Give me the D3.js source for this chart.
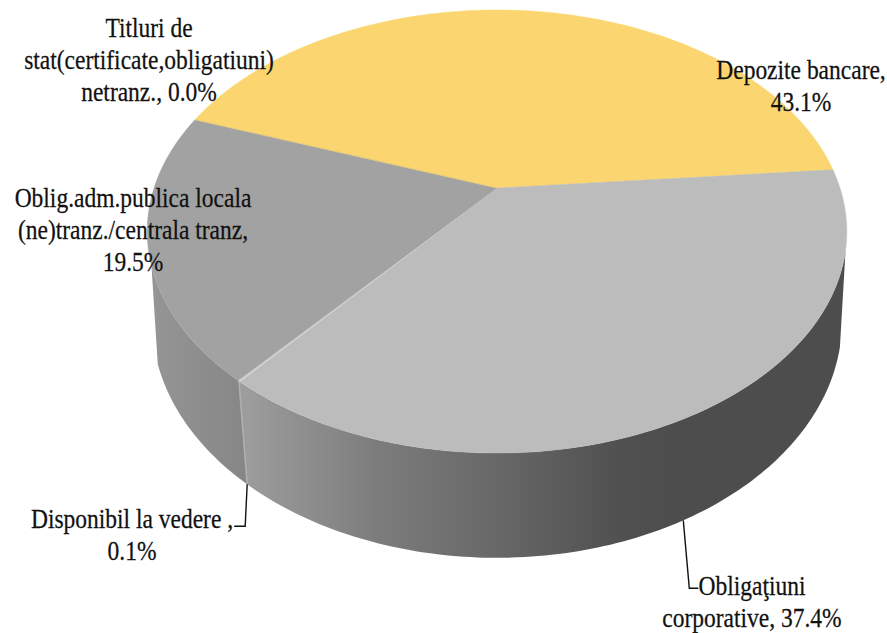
<!DOCTYPE html>
<html>
<head>
<meta charset="utf-8">
<script src="https://cdn.jsdelivr.net/npm/d3@7"></script>
<style>
  html, body { margin: 0; background: #fff; }
  svg { display: block; }
  text { font-family: "Liberation Serif", serif; font-size: 27px; fill: #111; stroke: #111; stroke-width: 0.25; }
</style>
</head>
<body>
<svg id="chart" width="887" height="633"></svg>
<script>
// clockwise from the first slice, as in the source chart
var categories = ["Depozite bancare", "Obligaţiuni corporative", "Disponibil la vedere", "Oblig.adm.publica locala (ne)tranz./centrala tranz", "Titluri de stat(certificate,obligatiuni) netranz."];
var values = [43.1, 37.4, 0.1, 19.5, 0.0];
var topColors = ["#fbd670", "#bcbcbc", "#d0d0d0", "#a2a2a2", "#fbd670"];

var labelLines = [
  ["Depozite bancare,", "43.1%"],
  ["Obligaţiuni", "corporative, 37.4%"],
  ["Disponibil la vedere ,", "0.1%"],
  ["Oblig.adm.publica locala", "(ne)tranz./centrala tranz,", "19.5%"],
  ["Titluri de", "stat(certificate,obligatiuni)", "netranz., 0.0%"]
];
var labelPos = [[801, 79], [752, 595], [132, 528], [133, 207], [149, 37]];

var svg = d3.select("#chart");

// pie starts at 290deg, like firstSliceAng in the original
var start = 290 * Math.PI / 180;
var pie = d3.pie().sort(null).startAngle(start).endAngle(start + 2 * Math.PI);
var arcs = pie(values);

// perspective view of the two discs
function project(plane, a) {
  var u = Math.sin(a), v = -Math.cos(a), w = 1 - plane.k * v;
  return [plane.cx + plane.r * u / w, plane.cy + plane.b * v / w];
}
var topPlane = {cx: 497, cy: 188, r: 343, b: 213, k: 0.1964};
var botPlane = {cx: 497, cy: 280.7, r: 340, b: 230, k: 0.17};

var line = d3.line();
function rimAngles(a0, a1) {
  var n = Math.max(2, Math.ceil(Math.abs(a1 - a0) * 60));
  return d3.range(n + 1).map(function(i) { return a0 + (a1 - a0) * i / n; });
}
// pie angles run past a full turn because of the start angle
function midAngle(d) { return ((d.startAngle + d.endAngle) / 2) % (2 * Math.PI); }

// wall shading runs left to right, each slice has its own
var defs = svg.append("defs");
function wallGradient(id, xs, colors) {
  var g = defs.append("linearGradient").attr("id", id)
    .attr("gradientUnits", "userSpaceOnUse")
    .attr("x1", xs[0]).attr("x2", xs[xs.length - 1]).attr("y1", 0).attr("y2", 0);
  xs.forEach(function(x, i) {
    g.append("stop")
      .attr("offset", (x - xs[0]) / (xs[xs.length - 1] - xs[0]))
      .attr("stop-color", colors[i]);
  });
}
wallGradient("wallLeft", [147, 247], ["#969696", "#868686"]);
wallGradient("wallRight", [240, 380, 500, 620, 680, 847], ["#9e9e9e", "#7c7c7c", "#676767", "#505050", "#4d4d4d", "#4d4d4d"]);

function wall(a0, a1, fill) {
  var topRim = rimAngles(a0, a1).map(function(a) { return project(topPlane, a); });
  var botRim = rimAngles(a1, a0).map(function(a) { return project(botPlane, a); });
  svg.append("path")
    .attr("d", line(topRim.concat(botRim)) + "Z")
    .attr("fill", fill);
}
// only the part facing the viewer
var wallA0 = 106 * Math.PI / 180, wallA1 = 250 * Math.PI / 180;
wall(wallA0, midAngle(arcs[2]), "url(#wallRight)");
wall(midAngle(arcs[2]), wallA1, "url(#wallLeft)");

// sliver of the 0.1% slice on the wall
svg.append("path")
  .attr("d", line([project(topPlane, midAngle(arcs[2])), project(botPlane, midAngle(arcs[2]))]))
  .attr("stroke", "#b0b0b0").attr("stroke-width", 1.5).attr("fill", "none");

// top faces
arcs.forEach(function(d, i) {
  var pts = [[topPlane.cx, topPlane.cy]].concat(
    rimAngles(d.startAngle, d.endAngle).map(function(a) { return project(topPlane, a); }));
  svg.append("path")
    .attr("d", line(pts) + "Z")
    .attr("fill", topColors[i])
    .attr("stroke", topColors[i])
    .attr("stroke-width", i == 2 ? 1 : 0.4);
});

// leader lines, from the outer rim of the slice to its label
function leader(d, elbow, end) {
  var p = project(botPlane, midAngle(d));
  svg.append("path")
    .attr("d", line([p, [p[0] + elbow[0], p[1] + elbow[1]], [p[0] + end[0], p[1] + end[1]]]))
    .attr("fill", "none").attr("stroke", "#111").attr("stroke-width", 1.4);
}
leader(arcs[2], [-2, 42], [-13, 42]);
leader(arcs[1], [6, 68], [15, 68]);

// labels
labelLines.forEach(function(lines, i) {
  var g = svg.append("g")
    .attr("transform", "translate(" + labelPos[i][0] + "," + labelPos[i][1] + ") scale(0.87,1)");
  lines.forEach(function(t, j) {
    g.append("text")
      .attr("y", j * 32)
      .attr("text-anchor", "middle")
      .text(t);
  });
});
</script>
</body>
</html>
